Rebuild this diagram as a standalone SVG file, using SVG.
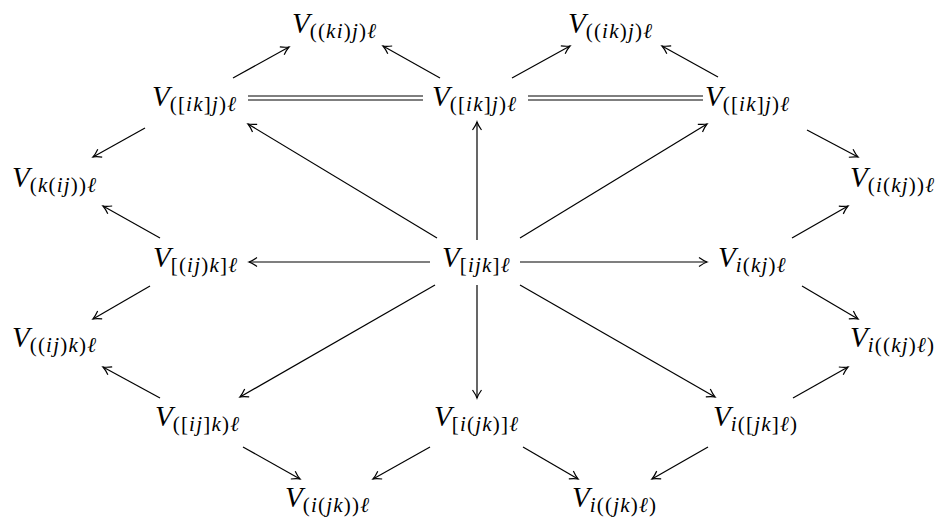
<svg xmlns="http://www.w3.org/2000/svg" width="941" height="525" viewBox="0 0 941 525">
<style>
text{font-family:"Liberation Serif","DejaVu Serif",serif;fill:#000}
.V{font-size:29px;font-style:italic}
.s{font-size:21px;letter-spacing:1.2px}
.i{font-style:italic}
.e{stroke:#000;stroke-width:1.2;fill:none;marker-end:url(#ah)}
.d{stroke:#000;stroke-width:1.2;fill:none}
</style>
<defs>
<marker id="ah" markerUnits="userSpaceOnUse" markerWidth="20" markerHeight="20" viewBox="-10 -10 20 20" refX="0" refY="0" orient="auto" overflow="visible">
<path d="M-8,-4.5 Q-3,-1 0,0 Q-3,1 -8,4.5" stroke="#000" stroke-width="1.2" fill="none"/>
</marker>
</defs>
<g id="connectors">
<line class="e" x1="233" y1="78" x2="289" y2="47"/>
<line class="e" x1="440" y1="78" x2="383" y2="46"/>
<line class="e" x1="512" y1="78" x2="570" y2="46"/>
<line class="e" x1="718" y1="77" x2="662" y2="46"/>
<line class="d" x1="248" y1="96" x2="423" y2="96"/>
<line class="d" x1="248" y1="100" x2="423" y2="100"/>
<line class="d" x1="528" y1="96" x2="703" y2="96"/>
<line class="d" x1="528" y1="100" x2="703" y2="100"/>
<line class="e" x1="145" y1="128" x2="93" y2="157"/>
<line class="e" x1="437" y1="238" x2="248" y2="124"/>
<line class="e" x1="160" y1="238" x2="103" y2="206"/>
<line class="e" x1="430" y1="262" x2="249" y2="262"/>
<line class="e" x1="150" y1="286" x2="93" y2="319"/>
<line class="e" x1="477" y1="240" x2="477" y2="122"/>
<line class="e" x1="520" y1="238" x2="707" y2="124"/>
<line class="e" x1="807" y1="130" x2="858" y2="157"/>
<line class="e" x1="792" y1="238" x2="848" y2="206"/>
<line class="e" x1="520" y1="262" x2="707" y2="262"/>
<line class="e" x1="802" y1="286" x2="858" y2="319"/>
<line class="e" x1="435" y1="285" x2="240" y2="397"/>
<line class="e" x1="477" y1="285" x2="477" y2="398"/>
<line class="e" x1="520" y1="285" x2="715" y2="397"/>
<line class="e" x1="160" y1="398" x2="103" y2="367"/>
<line class="e" x1="793" y1="398" x2="848" y2="367"/>
<line class="e" x1="243" y1="447" x2="300" y2="479"/>
<line class="e" x1="430" y1="447" x2="373" y2="479"/>
<line class="e" x1="523" y1="447" x2="578" y2="479"/>
<line class="e" x1="708" y1="447" x2="652" y2="479"/>
</g>
<g id="n_kij_top"><text x="292" y="33"><tspan class="V">V</tspan><tspan class="s" dy="5">((<tspan class="i">ki</tspan>)<tspan class="i">j</tspan>)<tspan class="i">ℓ</tspan></tspan></text></g>
<g id="n_ikj_top"><text x="568" y="33"><tspan class="V">V</tspan><tspan class="s" dy="5">((<tspan class="i">ik</tspan>)<tspan class="i">j</tspan>)<tspan class="i">ℓ</tspan></tspan></text></g>
<g id="n_ikj_l"><text x="152" y="106"><tspan class="V">V</tspan><tspan class="s" dy="5">([<tspan class="i">ik</tspan>]<tspan class="i">j</tspan>)<tspan class="i">ℓ</tspan></tspan></text></g>
<g id="n_ikj_c"><text x="432" y="106"><tspan class="V">V</tspan><tspan class="s" dy="5">([<tspan class="i">ik</tspan>]<tspan class="i">j</tspan>)<tspan class="i">ℓ</tspan></tspan></text></g>
<g id="n_ikj_r"><text x="705" y="106"><tspan class="V">V</tspan><tspan class="s" dy="5">([<tspan class="i">ik</tspan>]<tspan class="i">j</tspan>)<tspan class="i">ℓ</tspan></tspan></text></g>
<g id="n_kij"><text x="12" y="187"><tspan class="V">V</tspan><tspan class="s" dy="5">(<tspan class="i">k</tspan>(<tspan class="i">ij</tspan>))<tspan class="i">ℓ</tspan></tspan></text></g>
<g id="n_ikj2"><text x="850" y="187"><tspan class="V">V</tspan><tspan class="s" dy="5">(<tspan class="i">i</tspan>(<tspan class="i">kj</tspan>))<tspan class="i">ℓ</tspan></tspan></text></g>
<g id="n_ijk_l"><text x="153" y="267"><tspan class="V">V</tspan><tspan class="s" dy="5">[(<tspan class="i">ij</tspan>)<tspan class="i">k</tspan>]<tspan class="i">ℓ</tspan></tspan></text></g>
<g id="n_ijk_c"><text x="442" y="267"><tspan class="V">V</tspan><tspan class="s" dy="5">[<tspan class="i">ijk</tspan>]<tspan class="i">ℓ</tspan></tspan></text></g>
<g id="n_ikj_4r"><text x="718" y="267"><tspan class="V">V</tspan><tspan class="s" dy="5"><tspan class="i">i</tspan>(<tspan class="i">kj</tspan>)<tspan class="i">ℓ</tspan></tspan></text></g>
<g id="n_ijk5l"><text x="12" y="347"><tspan class="V">V</tspan><tspan class="s" dy="5">((<tspan class="i">ij</tspan>)<tspan class="i">k</tspan>)<tspan class="i">ℓ</tspan></tspan></text></g>
<g id="n_ikj5r"><text x="850" y="347"><tspan class="V">V</tspan><tspan class="s" dy="5"><tspan class="i">i</tspan>((<tspan class="i">kj</tspan>)<tspan class="i">ℓ</tspan>)</tspan></text></g>
<g id="n_ijk6l"><text x="155" y="426"><tspan class="V">V</tspan><tspan class="s" dy="5">([<tspan class="i">ij</tspan>]<tspan class="i">k</tspan>)<tspan class="i">ℓ</tspan></tspan></text></g>
<g id="n_ijk6c"><text x="434" y="426"><tspan class="V">V</tspan><tspan class="s" dy="5">[<tspan class="i">i</tspan>(<tspan class="i">jk</tspan>)]<tspan class="i">ℓ</tspan></tspan></text></g>
<g id="n_ijk6r"><text x="713" y="426"><tspan class="V">V</tspan><tspan class="s" dy="5"><tspan class="i">i</tspan>([<tspan class="i">jk</tspan>]<tspan class="i">ℓ</tspan>)</tspan></text></g>
<g id="n_ijk7l"><text x="285" y="507"><tspan class="V">V</tspan><tspan class="s" dy="5">(<tspan class="i">i</tspan>(<tspan class="i">jk</tspan>))<tspan class="i">ℓ</tspan></tspan></text></g>
<g id="n_ijk7r"><text x="572" y="507"><tspan class="V">V</tspan><tspan class="s" dy="5"><tspan class="i">i</tspan>((<tspan class="i">jk</tspan>)<tspan class="i">ℓ</tspan>)</tspan></text></g>
</svg>
